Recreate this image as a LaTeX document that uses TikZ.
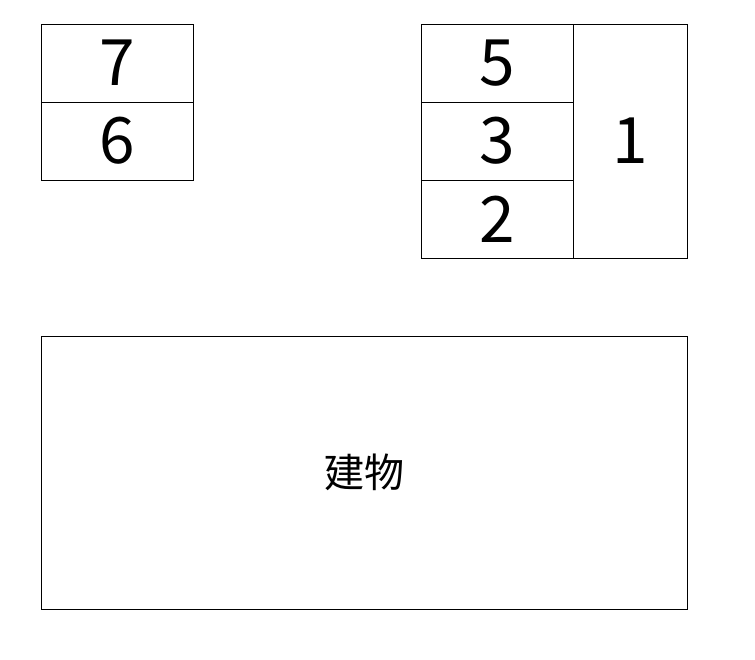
\documentclass[tikz,border=0pt]{standalone}
\usepackage{fontspec}
\setmainfont{Noto Sans CJK JP}
\newfontfamily\cjk{Noto Sans CJK JP}
\begin{document}
\begin{tikzpicture}[x=1pt,y=-1pt,
  cell/.style={draw=black,line width=0.9pt,inner sep=0pt,font=\fontsize{64}{64}\selectfont},
  bldg/.style={draw=black,line width=0.9pt,inner sep=0pt,font=\cjk\fontsize{40}{40}\selectfont}]
\useasboundingbox[fill=white] (0,0) rectangle (755,660);
\node[cell,minimum width=152pt,minimum height=78pt] (c7) at (117,63) {7};
\node[cell,minimum width=152pt,minimum height=78pt] (c6) at (117,141) {6};
\node[cell,minimum width=152pt,minimum height=78pt] (c5) at (497,63) {5};
\node[cell,minimum width=152pt,minimum height=78pt] (c3) at (497,141) {3};
\node[cell,minimum width=152pt,minimum height=78pt] (c2) at (497,219) {2};
\node[cell,minimum width=114pt,minimum height=234pt] (c1) at (630,141) {1};
\node[bldg,minimum width=646pt,minimum height=273pt] (b) at (364,472.5) {建物};
\end{tikzpicture}
\end{document}
